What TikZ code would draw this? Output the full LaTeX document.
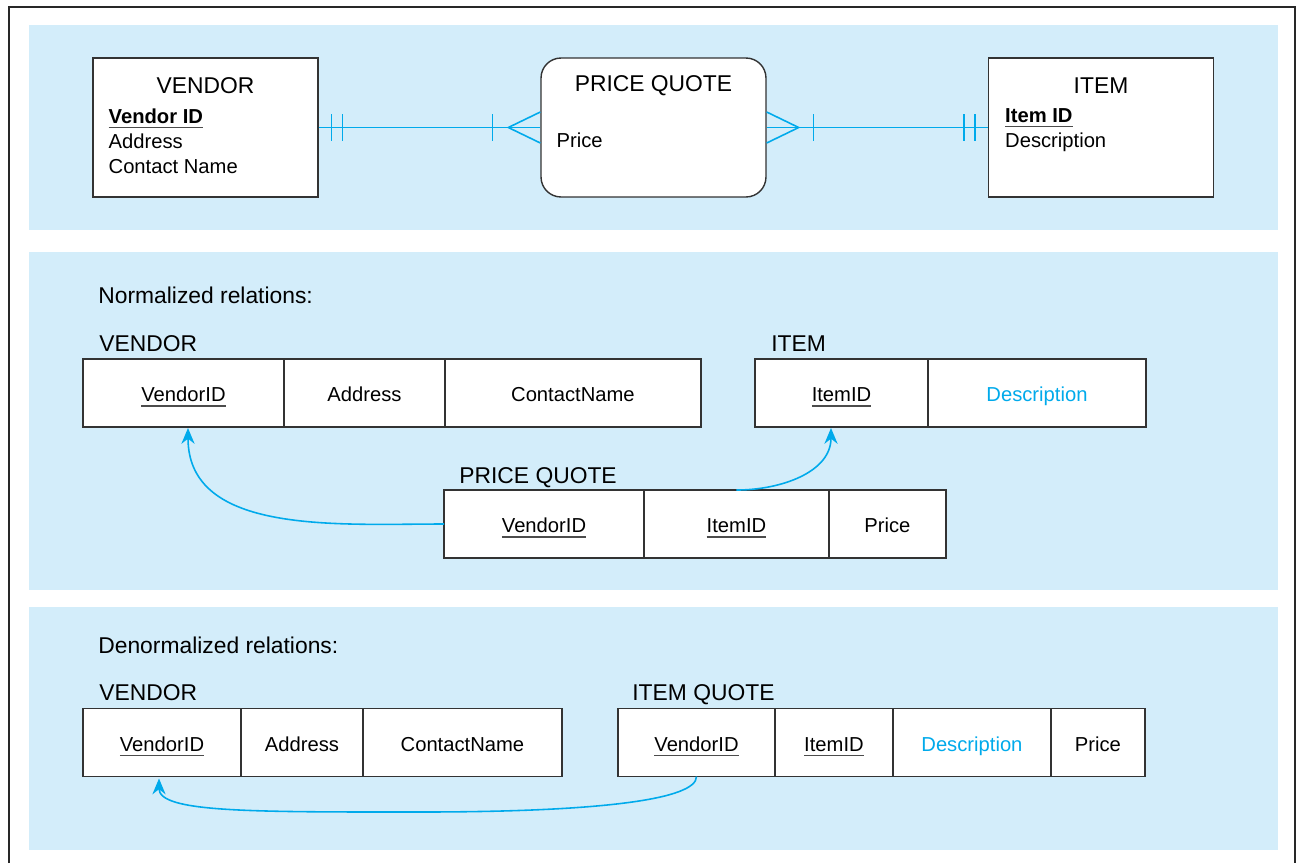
\documentclass[tikz,border=0pt]{standalone}
\usepackage{fontspec}
\setmainfont{Liberation Sans}
\usetikzlibrary{positioning, arrows.meta, calc}

\definecolor{panelblue}{RGB}{211,237,250}
\definecolor{linkblue}{RGB}{0,170,235}
\definecolor{framegray}{RGB}{40,40,40}

% underlined key attribute
\newcommand{\pkey}[1]{\begingroup\setbox0\hbox{#1}\rlap{\color{black!70}\rule[-2.8pt]{\wd0}{0.8pt}}\box0\endgroup}

\begin{document}
\begin{tikzpicture}[
		x=0.02cm, y=-0.02cm,
		% Background bands
		panel/.style={fill=panelblue, draw=none},
		% E-R entity boxes
		entity/.style={
				rectangle, draw=black!80, line width=0.8pt, fill=white,
				minimum width=4.5cm, minimum height=2.78cm, inner sep=0pt
			},
		enttitle/.style={font=\fontsize{13}{15}\selectfont, inner sep=0pt},
		entattr/.style={font=\fontsize{11.5}{14.2}\selectfont, align=left, anchor=north west, inner sep=0pt},
		% Relation cells (fixed width per cell)
		relcell/.style={
				rectangle, draw=black!80, line width=0.8pt, fill=white,
				minimum width=#1, minimum height=1.36cm, inner sep=0pt, outer sep=0pt,
				text height=10.4pt, text depth=0.6pt, font=\fontsize{11.5}{14}\selectfont
			},
		rellabel/.style={font=\fontsize{13}{15}\selectfont, anchor=base west, inner sep=0pt},
		% Lines
		erline/.style={draw=linkblue, line width=0.9pt},
		fklink/.style={-{Stealth[length=9pt, width=7.5pt]}, draw=linkblue, line width=0.9pt}
	]

	\useasboundingbox (0,0) rectangle (1298,863);

	% ==========================================
	% 0. FRAME AND BACKGROUND BANDS
	% ==========================================

	\draw[framegray, line width=1.4pt] (9,863) -- (9,7) -- (1295,7) -- (1295,863);
	\fill[panel] (29,25) rectangle (1278,230);
	\fill[panel] (29,252) rectangle (1278,590);
	\fill[panel] (29,607) rectangle (1278,850);


	% ==========================================
	% 1. E-R DIAGRAM (TOP BAND)
	% ==========================================

	\node[entity] (vendor) at (205.5,127.5) {};
	\node[enttitle] (vendortitle) at ($(vendor.north)+(0,28)$) {VENDOR};
	\node[entattr] (vendorattr) at ($(vendor.north west)+(16,51)$)
	{\textbf{\pkey{Vendor ID}}\\Address\\Contact Name};

	\node[entity, rounded corners=0.4cm] (pq) at (653.5,127.5) {};
	\node[enttitle] (pqtitle) at ($(pq.north)+(0,28)$) {PRICE QUOTE};
	\node[entattr] (pqattr) at ($(pq.north west)+(16,75)$) {Price};

	\node[entity] (item) at (1101,127.5) {};
	\node[enttitle] (itemtitle) at ($(item.north)+(0,28)$) {ITEM};
	\node[entattr] (itemattr) at ($(item.north west)+(17,51)$)
	{\textbf{\pkey{Item ID}}\\Description};

	% Relationship lines
	\draw[erline] (vendor.east) -- (pq.west);
	\draw[erline] (pq.east) -- (item.west);

	% Cardinality marks: one (bars) and many (crow's foot)
	\foreach \dx in {13,24}
	\draw[erline] ($(vendor.east)+(\dx,-13.5)$) -- ++(0,27);
	\draw[erline] ($(pq.west)+(-48,-13.5)$) -- ++(0,27);
	\draw[erline] ($(pq.west)+(0,-15.5)$) -- ($(pq.west)+(-32,0)$) -- ($(pq.west)+(0,15.5)$);

	\draw[erline] ($(pq.east)+(0,-15.5)$) -- ($(pq.east)+(32,0)$) -- ($(pq.east)+(0,15.5)$);
	\draw[erline] ($(pq.east)+(47,-13.5)$) -- ++(0,27);
	\foreach \dx in {13,24}
	\draw[erline] ($(item.west)+(-\dx,-13.5)$) -- ++(0,27);


	% ==========================================
	% 2. NORMALIZED RELATIONS (MIDDLE BAND)
	% ==========================================

	\node[rellabel] (normlabel) at (98,303) {Normalized relations:};

	% VENDOR
	\node[relcell=4.02cm] (nvid) at (183.5,393) {\pkey{VendorID}};
	\node[relcell=3.22cm, right=0pt of nvid] (naddr) {Address};
	\node[relcell=5.12cm, right=0pt of naddr] (ncontact) {ContactName};
	\node[rellabel] (nvendorlabel) at ($(nvid.north west)+(16,-8)$) {VENDOR};

	% ITEM
	\node[relcell=3.46cm] (niid) at (841.5,393) {\pkey{ItemID}};
	\node[relcell=4.36cm, right=0pt of niid] (ndesc) {\textcolor{linkblue}{Description}};
	\node[rellabel] (nitemlabel) at ($(niid.north west)+(16,-8)$) {ITEM};

	% PRICE QUOTE
	\node[relcell=4.0cm] (pqvid) at (544,524) {\pkey{VendorID}};
	\node[relcell=3.7cm, right=0pt of pqvid] (pqiid) {\pkey{ItemID}};
	\node[relcell=2.34cm, right=0pt of pqiid] (pqprice) {Price};
	\node[rellabel] (npqlabel) at ($(pqvid.north west)+(15,-7)$) {PRICE QUOTE};

	% Foreign keys
	\draw[fklink] (pqvid.west) to[out=180, in=-90] ($(nvid.south)+(4.5,1)$);
	\draw[fklink] (pqiid.north) to[out=0, in=-90] ($(niid.south)+(-10.5,1)$);


	% ==========================================
	% 3. DENORMALIZED RELATIONS (BOTTOM BAND)
	% ==========================================

	\node[rellabel] (denormlabel) at (98,653) {Denormalized relations:};

	% VENDOR
	\node[relcell=3.16cm] (dvid) at (162,742.5) {\pkey{VendorID}};
	\node[relcell=2.44cm, right=0pt of dvid] (daddr) {Address};
	\node[relcell=3.98cm, right=0pt of daddr] (dcontact) {ContactName};
	\node[rellabel] (dvendorlabel) at ($(dvid.north west)+(16,-8)$) {VENDOR};

	% ITEM QUOTE
	\node[relcell=3.14cm] (iqvid) at (696.5,742.5) {\pkey{VendorID}};
	\node[relcell=2.36cm, right=0pt of iqvid] (iqiid) {\pkey{ItemID}};
	\node[relcell=3.16cm, right=0pt of iqiid] (iqdesc) {\textcolor{linkblue}{Description}};
	\node[relcell=1.88cm, right=0pt of iqdesc] (iqprice) {Price};
	\node[rellabel] (diqlabel) at ($(iqvid.north west)+(14,-8)$) {ITEM QUOTE};

	% Foreign key
	\coordinate (dbend) at (420,812);
	\draw[fklink] (iqvid.south) .. controls +(0,23) and +(180,0) .. (dbend)
	.. controls +(-170,0) and +(0,34) .. ($(dvid.south)+(-3,2)$);

\end{tikzpicture}
\end{document}
